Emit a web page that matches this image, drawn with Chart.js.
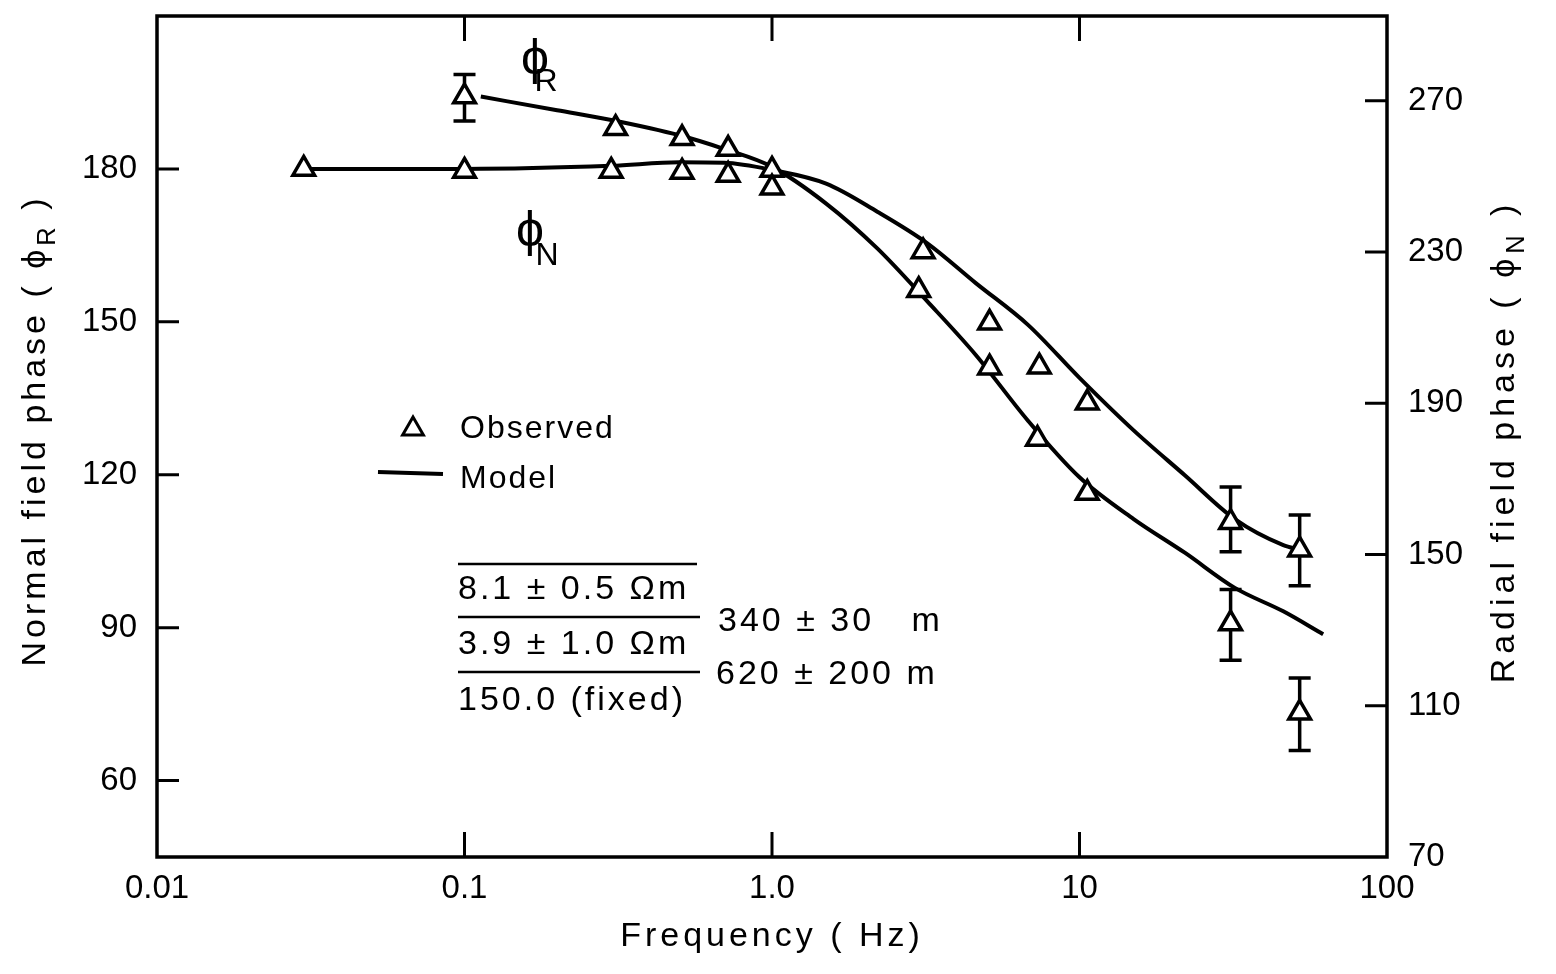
<!DOCTYPE html>
<html>
<head>
<meta charset="utf-8">
<script src="https://cdn.jsdelivr.net/npm/chart.js@4.4.1/dist/chart.umd.min.js"></script>
<style>
  html, body { margin: 0; padding: 0; background: #fff; }
  #wrap { width: 1556px; height: 974px; }
</style>
</head>
<body>
<div id="wrap"><canvas id="myChart"></canvas></div>
<script>
//data
const xTicks = [0.01, 0.1, 1, 10, 100];
const xTickLabels = ["0.01", "0.1", "1.0", "10", "100"];
const leftTicks = [60, 90, 120, 150, 180];
const rightTicks = [70, 110, 150, 190, 230, 270];

// observed phi R (upper branch at low frequency)
const obsFreqR = [0.1, 0.31, 0.51, 0.72, 1.0, 3.0, 5.1, 7.3, 10.6, 31, 52];
const obsPhaseR = [194.2, 188, 186, 183.9, 176.3, 156.2, 141, 127, 116.4, 90.8, 73.3];
const errLowR = [189.4, null, null, null, null, null, null, null, null, 83.6, 65.9];
const errHighR = [198.5, null, null, null, null, null, null, null, null, 97.5, 80.1];

// observed phi N (flat near 180)
const obsFreqN = [0.03, 0.1, 0.3, 0.51, 0.72, 1.0, 3.1, 5.1, 7.4, 10.6, 31, 52];
const obsPhaseN = [180, 179.6, 179.6, 179.4, 178.8, 179.8, 163.8, 149.8, 141.2, 134.1, 110.7, 105.3];
const errLowN = [null, null, null, null, null, null, null, null, null, null, 104.9, 98.2];
const errHighN = [null, null, null, null, null, null, null, null, null, null, 117.6, 112.1];

// model curves
const modelFreqR = [0.113, 0.2, 0.3, 0.5, 0.7, 1.0, 1.5, 2.2, 3.2, 4.6, 6.8, 10, 15, 22, 32, 46, 62];
const modelPhaseR = [194.2, 191.5, 189.6, 186.6, 183.9, 180.4, 173.2, 164.4, 154, 143.5, 130.6, 119.5, 111.3, 104.7, 97.8, 93.2, 88.7];
const modelFreqN = [0.03, 0.1, 0.3, 0.5, 0.7, 1.0, 1.5, 2.2, 3.2, 4.6, 6.8, 10, 15, 22, 32, 46, 52];
const modelPhaseN = [180, 180, 180.6, 181.3, 181.2, 179.8, 177.1, 171.6, 165.4, 157.6, 149.4, 139, 128.7, 119.9, 111.3, 106.2, 105.3];

const FONT = "'Liberation Sans', 'DejaVu Sans', sans-serif";

function pts(xs, ys) {
  return xs.map((x, i) => ({ x: x, y: ys[i] }));
}

// draws text pieces centred on x, with optional subscript parts
function drawPieces(ctx, pieces, x, y, size, spacing) {
  ctx.letterSpacing = spacing + "px";
  let total = 0;
  pieces.forEach(p => {
    ctx.font = (p.sub ? size * 0.75 : size) + "px " + FONT;
    p.w = ctx.measureText(p.t).width;
    total += p.w;
  });
  let cx = x - total / 2;
  pieces.forEach(p => {
    ctx.font = (p.sub ? size * 0.75 : size) + "px " + FONT;
    ctx.fillText(p.t, cx, p.sub ? y + size * 0.35 : y);
    cx += p.w;
  });
  ctx.letterSpacing = "0px";
}

const errorBars = {
  id: "errorBars",
  beforeDatasetsDraw(chart) {
    const ctx = chart.ctx;
    const y = chart.scales.y;
    const sets = [[0, errLowR, errHighR], [1, errLowN, errHighN]];
    ctx.save();
    ctx.strokeStyle = "#000";
    ctx.lineWidth = 3.5;
    sets.forEach(s => {
      const meta = chart.getDatasetMeta(s[0]);
      meta.data.forEach((pt, i) => {
        if (s[1][i] == null) return;
        const lo = y.getPixelForValue(s[1][i]);
        const hi = y.getPixelForValue(s[2][i]);
        ctx.beginPath();
        ctx.moveTo(pt.x, lo); ctx.lineTo(pt.x, hi);
        ctx.moveTo(pt.x - 11, lo); ctx.lineTo(pt.x + 11, lo);
        ctx.moveTo(pt.x - 11, hi); ctx.lineTo(pt.x + 11, hi);
        ctx.stroke();
      });
    });
    ctx.restore();
  },
};

const frame = {
  id: "frame",
  afterDraw(chart) {
    const ctx = chart.ctx;
    const a = chart.chartArea;
    const x = chart.scales.x, y = chart.scales.y, y2 = chart.scales.y2;
    const midY = (a.top + a.bottom) / 2;
    ctx.save();
    ctx.strokeStyle = "#000";
    ctx.fillStyle = "#000";
    ctx.lineWidth = 3.5;
    ctx.strokeRect(a.left, a.top, a.right - a.left, a.bottom - a.top);

    // inward tick marks
    ctx.lineWidth = 3;
    ctx.beginPath();
    xTicks.slice(1, -1).forEach(v => {
      const px = x.getPixelForValue(v);
      ctx.moveTo(px, a.top); ctx.lineTo(px, a.top + 25);
      ctx.moveTo(px, a.bottom); ctx.lineTo(px, a.bottom - 25);
    });
    leftTicks.forEach(v => {
      const py = y.getPixelForValue(v);
      ctx.moveTo(a.left, py); ctx.lineTo(a.left + 22, py);
    });
    rightTicks.slice(1).forEach(v => {
      const py = y2.getPixelForValue(v);
      ctx.moveTo(a.right, py); ctx.lineTo(a.right - 22, py);
    });
    ctx.stroke();

    // axis titles
    ctx.textBaseline = "middle";
    ctx.textAlign = "left";
    drawPieces(ctx, [{ t: "Frequency ( Hz)" }], (a.left + a.right) / 2, 937, 34, 4);

    ctx.save();
    ctx.translate(36, midY - 6);
    ctx.rotate(-Math.PI / 2);
    drawPieces(ctx, [{ t: "Normal field phase ( ϕ" }, { t: "R", sub: true }, { t: " )" }], 0, 0, 34, 4);
    ctx.restore();

    ctx.save();
    ctx.translate(1505, midY + 5);
    ctx.rotate(-Math.PI / 2);
    drawPieces(ctx, [{ t: "Radial field phase ( ϕ" }, { t: "N", sub: true }, { t: " )" }], 0, 0, 34, 5);
    ctx.restore();

    // curve labels
    ctx.font = "50px " + FONT;
    ctx.textAlign = "center";
    ctx.fillText("ϕ", a.left + 378, a.top + 44);
    ctx.fillText("ϕ", a.left + 373, a.top + 216);
    ctx.font = "32px " + FONT;
    ctx.fillText("R", a.left + 389, a.top + 66);
    ctx.fillText("N", a.left + 390, a.top + 240);

    // legend
    ctx.lineWidth = 3;
    ctx.fillStyle = "#fff";
    Chart.helpers.drawPoint(ctx, { pointStyle: "triangle", radius: 12, borderWidth: 3, rotation: 0 }, a.left + 256, a.top + 413);
    ctx.fillStyle = "#000";
    ctx.lineWidth = 4;
    ctx.beginPath();
    ctx.moveTo(a.left + 221, a.top + 456);
    ctx.lineTo(a.left + 286, a.top + 458);
    ctx.stroke();
    ctx.textAlign = "left";
    ctx.font = "32px " + FONT;
    ctx.letterSpacing = "2px";
    ctx.fillText("Observed", a.left + 303, a.top + 413);
    ctx.fillText("Model", a.left + 303, a.top + 463);

    // parameter table
    ctx.lineWidth = 2.5;
    ctx.beginPath();
    ctx.moveTo(a.left + 301, a.top + 548); ctx.lineTo(a.left + 540, a.top + 548);
    ctx.moveTo(a.left + 301, a.top + 601); ctx.lineTo(a.left + 543, a.top + 601);
    ctx.moveTo(a.left + 301, a.top + 656); ctx.lineTo(a.left + 543, a.top + 656);
    ctx.stroke();
    ctx.font = "34px " + FONT;
    ctx.letterSpacing = "3px";
    ctx.fillText("8.1 ± 0.5 Ωm", a.left + 301, a.top + 574);
    ctx.fillText("3.9 ± 1.0 Ωm", a.left + 301, a.top + 629);
    ctx.fillText("150.0 (fixed)", a.left + 301, a.top + 685);
    ctx.fillText("340 ± 30   m", a.left + 561, a.top + 606);
    ctx.fillText("620 ± 200 m", a.left + 559, a.top + 659);
    ctx.letterSpacing = "0px";
    ctx.restore();
  },
};

const data = {
  datasets: [
    {
      label: "Observed R",
      data: pts(obsFreqR, obsPhaseR),
      pointStyle: "triangle",
      pointRadius: 12.5,
      pointBorderWidth: 3.5,
      pointBackgroundColor: "#fff",
      pointBorderColor: "#000",
      showLine: false,
    },
    {
      label: "Observed N",
      data: pts(obsFreqN, obsPhaseN),
      pointStyle: "triangle",
      pointRadius: 12.5,
      pointBorderWidth: 3.5,
      pointBackgroundColor: "#fff",
      pointBorderColor: "#000",
      showLine: false,
    },
    {
      label: "Model R",
      data: pts(modelFreqR, modelPhaseR),
      showLine: true,
      pointRadius: 0,
      borderColor: "#000",
      borderWidth: 4,
      cubicInterpolationMode: "monotone",
    },
    {
      label: "Model N",
      data: pts(modelFreqN, modelPhaseN),
      showLine: true,
      pointRadius: 0,
      borderColor: "#000",
      borderWidth: 4,
      cubicInterpolationMode: "monotone",
    },
  ],
};

// no extra padding for edge labels, the frame is fixed
const noPad = s => { s.paddingTop = 0; s.paddingBottom = 0; s.paddingLeft = 0; s.paddingRight = 0; };

const config = {
  type: "scatter",
  data: data,
  options: {
    responsive: true,
    maintainAspectRatio: false,
    animation: false,
    layout: { padding: { top: 12, left: 0, right: 0, bottom: 0 } },
    plugins: { legend: { display: false }, tooltip: { enabled: false } },
    scales: {
      x: {
        type: "logarithmic",
        min: 0.01,
        max: 100,
        grid: { display: false, drawTicks: false },
        border: { display: false },
        afterBuildTicks: s => { s.ticks = xTicks.map(v => ({ value: v })); },
        afterFit: s => { s.height = 117; noPad(s); },
        ticks: {
          color: "#000",
          padding: 12,
          maxRotation: 0,
          font: { family: FONT, size: 33 },
          callback: (v, i) => xTickLabels[i],
        },
      },
      y: {
        position: "left",
        min: 45,
        max: 210,
        grid: { display: false, drawTicks: false },
        border: { display: false },
        afterBuildTicks: s => { s.ticks = leftTicks.map(v => ({ value: v })); },
        afterFit: s => { s.width = 157; noPad(s); },
        ticks: { color: "#000", padding: 20, font: { family: FONT, size: 33 } },
      },
      y2: {
        position: "right",
        min: 70,
        max: 292.4,
        grid: { display: false, drawTicks: false },
        border: { display: false },
        afterBuildTicks: s => { s.ticks = rightTicks.map(v => ({ value: v })); },
        afterFit: s => { s.width = 169; noPad(s); },
        ticks: { color: "#000", padding: 21, font: { family: FONT, size: 33 } },
      },
    },
  },
  plugins: [errorBars, frame],
};

const myChart = new Chart(document.getElementById("myChart"), config);
</script>
</body>
</html>
